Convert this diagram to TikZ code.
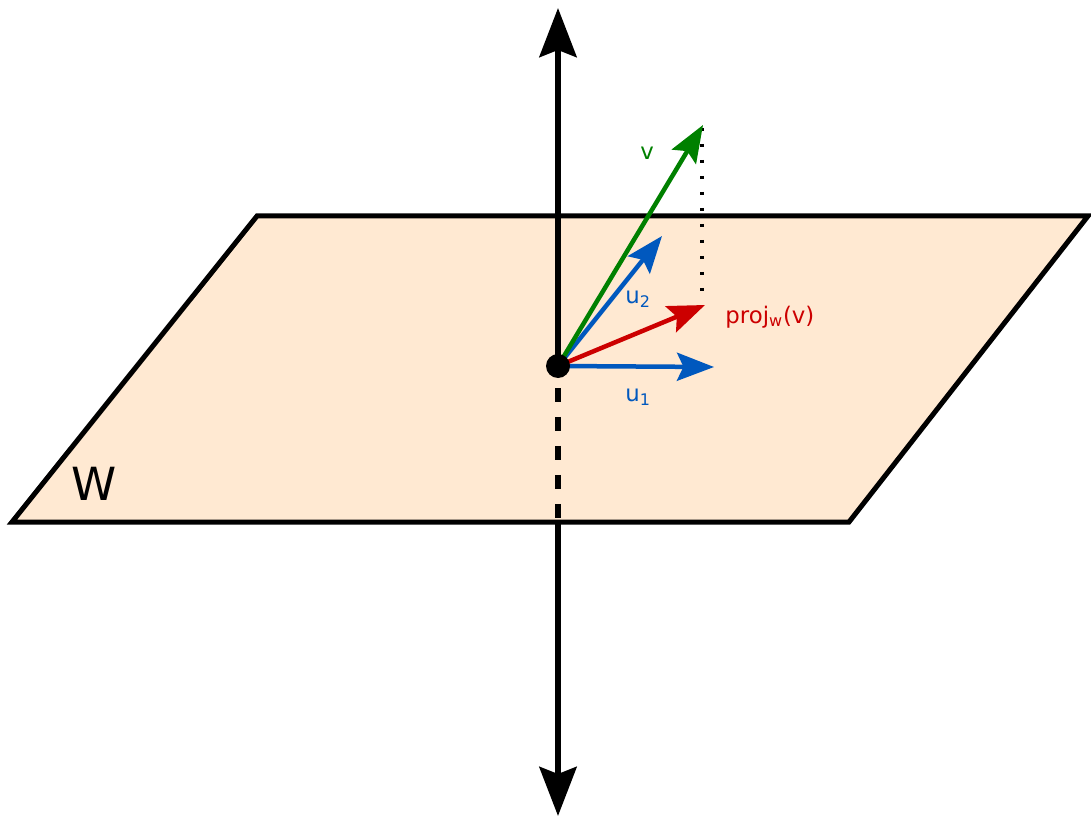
\documentclass[tikz,border=0pt]{standalone}
\usepackage{fontspec}
\setmainfont{DejaVu Sans}
\usetikzlibrary{arrows.meta}
\definecolor{planefill}{RGB}{255,233,210}
\definecolor{vgreen}{RGB}{0,128,0}
\definecolor{ublue}{RGB}{0,88,190}
\definecolor{pred}{RGB}{204,0,0}

\begin{document}
\begin{tikzpicture}[
  x=0.02cm,y=-0.02cm,
  font=\fontsize{13}{15}\selectfont,
  plane/.style={draw=black,line width=0.1cm,fill=planefill},
  axis/.style={line width=0.13cm,-{Stealth[length=0.98cm,width=0.74cm,inset=0.14cm]}},
  hidden/.style={line width=0.135cm,dash pattern=on 0.28cm off 0.3cm},
  vec/.style={line width=0.09cm,-{Stealth[length=0.74cm,width=0.56cm,inset=0.13cm]}},
  drop/.style={line width=0.07cm,dash pattern=on 0.07cm off 0.25cm},
  lbl/.style={inner sep=0pt,anchor=base west}
]
\useasboundingbox (0,0) rectangle (1091,817);

% The plane W, seen in perspective.
\draw[plane] (257,216) -- (1088,216) -- (849,522) -- (12,522) -- cycle;
\node[lbl,font=\fontsize{26}{30}\selectfont] (wlab) at (71,500) {W};

% Normal axis: hidden part under the plane is dashed.
\coordinate (O) at (558,366);
\coordinate (top) at (558,8);
\coordinate (bot) at (558,816);
\coordinate (dtop) at (558,388);
\coordinate (dbot) at (558,522);
\draw[hidden] (dtop) -- (dbot);
\draw[axis] (dbot) -- (bot);
\draw[axis] (O -| top) -- (top);

% v, its projection and the basis u1, u2.
\coordinate (vtip) at (703,125);
\coordinate (u2tip) at (662,236);
\coordinate (ptip) at (705,305);
\coordinate (u1tip) at (714,367);
\coordinate (vtop) at (702,128);
\coordinate (vfoot) at (702,296);
\draw[drop] (vtop) -- (vfoot);
\draw[vec,ublue] (O) -- (u1tip);
\draw[vec,ublue] (O) -- (u2tip);
\draw[vec,pred] (O) -- (ptip);
\draw[vec,vgreen] (O) -- (vtip);
\fill (O) circle (12);

\node[lbl,text=vgreen] (vlab) at (640,160) {v};
\node[lbl,text=ublue] (u2lab) at (625,303) {u\textsubscript{2}};
\node[lbl,text=ublue] (u1lab) at (625,401) {u\textsubscript{1}};
\node[lbl,text=pred] (plab) at (725,323) {proj\textsubscript{w}(v)};
\end{tikzpicture}
\end{document}
